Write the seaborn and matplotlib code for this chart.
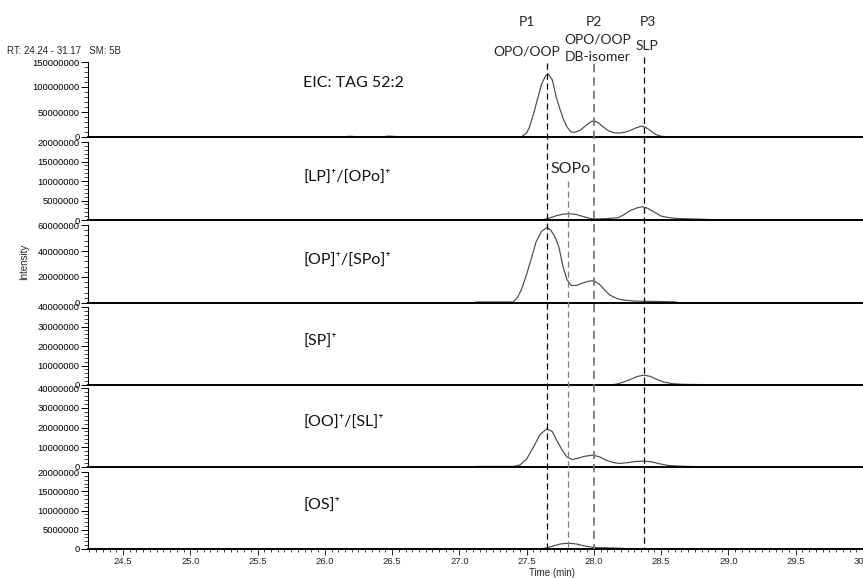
import numpy as np
import pandas as pd
import matplotlib
matplotlib.use("Agg")
import matplotlib.pyplot as plt
from matplotlib import ticker, font_manager
import seaborn as sns

# ---------------- data (intensities in millions of counts) ----------------
MEGA = 1e6
panel_labels = ["EIC: TAG 52:2", "[LP]⁺/[OPo]⁺", "[OP]⁺/[SPo]⁺", "[SP]⁺", "[OO]⁺/[SL]⁺", "[OS]⁺"]
panel_ymax = [150, 20, 60, 40, 40, 20]
panel_ystep = [50, 5, 20, 10, 10, 5]

eic_t = [24.24, 26.14, 26.18, 26.22, 26.26, 26.42, 26.47, 26.52, 26.56, 27.15, 27.20, 27.25,
         27.46, 27.50, 27.52, 27.55, 27.58, 27.61, 27.64, 27.66, 27.69, 27.72, 27.74, 27.77,
         27.80, 27.83, 27.86, 27.90, 27.94, 27.98, 28.00, 28.03, 28.07, 28.11, 28.15, 28.19,
         28.23, 28.27, 28.31, 28.35, 28.38, 28.42, 28.46, 28.50, 28.55, 28.62, 28.70, 28.76, 30.0]
eic_i = [0, 0, 1.5, 1.0, 0, 0, 1.8, 1.2, 0, 0, 0.8, 0,
         0, 8, 19, 45, 75, 105, 122, 126, 115, 80, 62, 38,
         20, 10, 9.5, 14, 23, 31, 32, 29, 20, 12, 8.5, 8,
         9.5, 13, 18, 21.5, 20, 13, 5, 1.5, 0.5, 0.8, 0.5, 0, 0]

lp_t = [27.58, 27.62, 27.67, 27.72, 27.77, 27.82, 27.87, 27.92, 27.97, 28.00, 28.05, 28.12,
        28.18, 28.22, 28.27, 28.32, 28.36, 28.40, 28.45, 28.50, 28.56, 28.62, 28.70, 28.80, 28.86, 28.88]
lp_i = [0, 0.1, 0.5, 1.1, 1.5, 1.6, 1.4, 0.9, 0.4, 0.25, 0.3, 0.4,
        0.6, 1.3, 2.4, 3.1, 3.4, 3.0, 2.0, 1.0, 0.6, 0.4, 0.3, 0.2, 0.1, 0]

op_t = [27.12, 27.40, 27.43, 27.46, 27.50, 27.54, 27.57, 27.61, 27.65, 27.68, 27.71, 27.74,
        27.77, 27.80, 27.83, 27.87, 27.92, 27.97, 28.00, 28.04, 28.08, 28.12, 28.17, 28.22,
        28.30, 28.45, 28.60, 28.64]
op_i = [0.8, 0.8, 3.8, 10, 22, 36, 47, 55, 58, 56, 51, 43,
        28, 18, 13.5, 13.5, 15.5, 17, 17, 14.5, 10, 6, 3.5, 2.3,
        1.5, 1.2, 0.9, 0]

sp_t = [28.12, 28.17, 28.22, 28.27, 28.32, 28.37, 28.42, 28.47, 28.52, 28.58, 28.65, 28.70, 28.83, 28.85]
sp_i = [0, 0.5, 1.5, 2.8, 4.3, 5.1, 4.4, 2.8, 1.5, 0.7, 0.4, 0.3, 0.2, 0]

oo_t = [27.13, 27.40, 27.45, 27.50, 27.55, 27.60, 27.65, 27.69, 27.72, 27.76, 27.80, 27.84,
        27.88, 27.93, 27.99, 28.04, 28.09, 28.14, 28.19, 28.25, 28.31, 28.37, 28.43, 28.49,
        28.55, 28.62, 28.70, 28.76]
oo_i = [0.3, 0.3, 1, 4, 10, 16.5, 19.3, 18, 14, 9, 5, 3.8,
        4.4, 5.4, 6.0, 5.2, 3.5, 2.3, 1.8, 2.2, 2.8, 3.0, 2.6, 1.6,
        0.8, 0.5, 0.3, 0.2]

os_t = [27.60, 27.65, 27.70, 27.75, 27.81, 27.87, 27.93, 27.98, 28.03, 28.10, 28.20, 28.27]
os_i = [0, 0.3, 0.8, 1.3, 1.5, 1.3, 0.8, 0.5, 0.35, 0.3, 0.2, 0]

traces_t = [eic_t, lp_t, op_t, sp_t, oo_t, os_t]
traces_i = [eic_i, lp_i, op_i, sp_i, oo_i, os_i]

# marker lines (retention times) and labels
peak_times = [27.65, 27.81, 28.00, 28.37]
peak_colors = ["black", "#8a7870", "#707070", "black"]
peak_tags = ["P1", "", "P2", "P3"]

x_min, x_max = 24.24, 30.0

# ---------------- figure ----------------
sns.set_style("white")
avail = {f.name for f in font_manager.fontManager.ttflist}
tick_font = "Liberation Sans" if "Liberation Sans" in avail else "DejaVu Sans"
note_font = ["Lato", "DejaVu Sans"]
plt.rcParams["font.family"] = [tick_font, "DejaVu Sans"]

W, H = 863, 578
fig = plt.figure(figsize=(W / 100, H / 100), dpi=100)
fig.patch.set_facecolor("white")

left_px, right_px = 88, 863
panel_px = [(62, 137), (142, 220), (225, 303), (307, 385), (388, 467), (472, 549)]

axes = []
for k, (top, bot) in enumerate(panel_px):
    ax = fig.add_axes([left_px / W, 1 - bot / H, (right_px - left_px) / W, (bot - top) / H])
    ax.set_facecolor("none")
    df = pd.DataFrame({"t": traces_t[k], "I": np.array(traces_i[k]) * MEGA})
    sns.lineplot(data=df, x="t", y="I", ax=ax, sort=False, estimator=None,
                 color="#4a4a4a", linewidth=0.85)
    ax.set_xlim(x_min, x_max)
    ax.set_ylim(0, panel_ymax[k] * MEGA)
    ax.yaxis.set_major_locator(ticker.MultipleLocator(panel_ystep[k] * MEGA))
    ax.yaxis.set_minor_locator(ticker.AutoMinorLocator(5))
    ax.yaxis.set_major_formatter(ticker.StrMethodFormatter("{x:.0f}"))
    for s in ["top", "right"]:
        ax.spines[s].set_visible(False)
    ax.spines["bottom"].set_linewidth(1.4)
    ax.spines["bottom"].set_color("black")
    ax.spines["left"].set_linewidth(0.8)
    ax.spines["left"].set_color("black")
    ax.tick_params(axis="y", which="major", direction="out", length=5, width=0.7,
                   labelsize=6.8, pad=1, left=True, colors="black")
    ax.tick_params(axis="y", which="minor", direction="out", length=3, width=0.6, left=True)
    ax.set_xlabel("")
    ax.set_ylabel("")
    ax.xaxis.set_major_locator(ticker.MultipleLocator(0.5))
    ax.xaxis.set_minor_locator(ticker.MultipleLocator(0.05))
    ax.xaxis.set_major_formatter(ticker.StrMethodFormatter("{x:.1f}"))
    if k < len(panel_px) - 1:
        ax.tick_params(axis="x", which="both", bottom=False, labelbottom=False)
    else:
        ax.tick_params(axis="x", which="major", direction="out", length=4, width=0.7,
                       labelsize=6.8, pad=2, bottom=True)
        ax.tick_params(axis="x", which="minor", direction="out", length=2.5, width=0.6, bottom=True)
    axes.append(ax)

# overlay for dashed retention-time markers (x in data, y in pixels)
ov = fig.add_axes([left_px / W, 0, (right_px - left_px) / W, 1])
ov.set_xlim(x_min, x_max)
ov.set_ylim(H, 0)
ov.axis("off")
ov.set_facecolor("none")
line_top_px = [63, 181, 64, 57]
for t, c, y0 in zip(peak_times, peak_colors, line_top_px):
    lw = 1.2 if c == "#707070" else 0.9
    ov.plot([t, t], [y0, 549], color=c, lw=lw, linestyle=(0, (5, 3)))

def ftxt(xp, yp, s, **kw):
    fig.text(xp / W, 1 - yp / H, s, **kw)

# panel labels
label_y = [83, 177, 260, 341, 422, 505]
for s, yp in zip(panel_labels, label_y):
    ftxt(303, yp, s, family=note_font, fontsize=11.5, ha="left", va="center", color="#111111")

# peak annotations
ftxt(527, 22, "P1", family=note_font, fontsize=10, ha="center", va="center")
ftxt(527, 52, "OPO/OOP", family=note_font, fontsize=10, ha="center", va="center")
ftxt(594, 22, "P2", family=note_font, fontsize=10, ha="center", va="center")
ftxt(598, 40, "OPO/OOP", family=note_font, fontsize=10, ha="center", va="center")
ftxt(598, 57, "DB-isomer", family=note_font, fontsize=10, ha="center", va="center")
ftxt(648, 22, "P3", family=note_font, fontsize=10, ha="center", va="center")
ftxt(647, 46, "SLP", family=note_font, fontsize=10, ha="center", va="center")
ftxt(571, 169, "SOPo", family=note_font, fontsize=11.5, ha="center", va="center")

# chromatogram header and axis titles
ftxt(7, 51, "RT: 24.24 - 31.17   SM: 5B", fontsize=7, ha="left", va="center")
ftxt(24, 262, "Intensity", fontsize=7, ha="center", va="center", rotation=90)
ftxt(552, 573, "Time (min)", fontsize=7, ha="center", va="center")

fig.savefig("out.png", dpi=100, facecolor="white")
